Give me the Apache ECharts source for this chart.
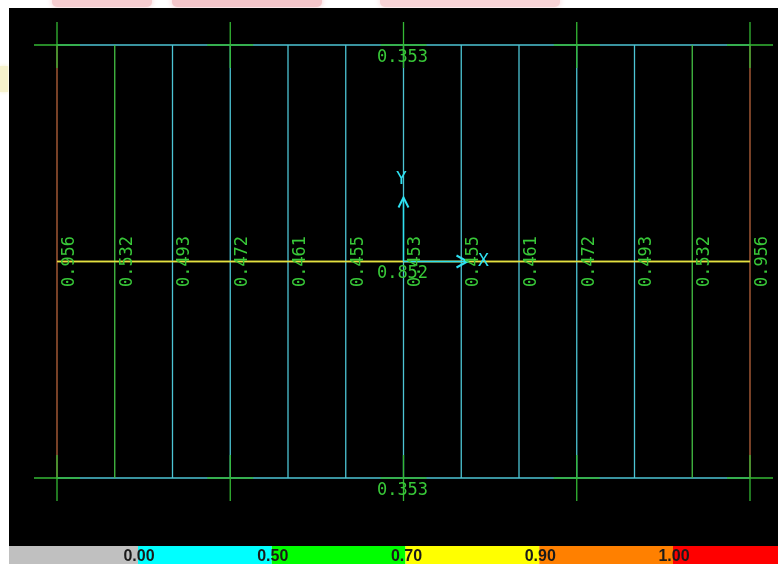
<!DOCTYPE html>
<html>
<head>
<meta charset="utf-8">
<script src="https://cdn.jsdelivr.net/npm/echarts@6/dist/echarts.min.js"></script>
<style>
  html, body { margin: 0; padding: 0; background: #ffffff; }
  #chart { width: 778px; height: 564px; }
</style>
</head>
<body>
<div id="chart"></div>
<script>
// Columns: position along the frame (bay index) and stress ratio
const columnPositions = [0, 1, 2, 3, 4, 5, 6, 7, 8, 9, 10, 11, 12];
const columnRatios = [0.956, 0.532, 0.493, 0.472, 0.461, 0.455, 0.453, 0.455, 0.461, 0.472, 0.493, 0.532, 0.956];
// Beams: level and stress ratio, all spanning the full frame
const beamLevels = [2, 1, 0];
const beamRatios = [0.353, 0.852, 0.353];
const beamSpan = [0, 12];
// Grid axes intersections marked with crosses
const gridNodeX = [0, 3, 6, 9, 12];
const gridNodeY = [0, 2];
// Local axes origin
const axisOrigin = [6, 1];
// Colour scale
const scaleLabels = ['0.00', '0.50', '0.70', '0.90', '1.00'];
const scaleThresholds = [0.00, 0.50, 0.70, 0.90, 1.00];
const scaleColors = ['#c0c0c0', '#00ffff', '#00ff00', '#ffff00', '#ff8000', '#ff0000'];
// Thin member line colours, one per scale band
const memberColors = ['#a0a0a0', '#4cc4d4', '#44c044', '#e4e040', '#b8643c', '#d83020'];

const labelColor = '#38c838';
const crossColor = '#34b834';
const axisColor = '#2ee0f0';
const monoFont = 'DejaVu Sans Mono';

function band(r) {
  let b = 0;
  scaleThresholds.forEach(t => { if (r >= t) b++; });
  return b;
}

const chart = echarts.init(document.getElementById('chart'), null, { renderer: 'canvas' });

const option = {
  backgroundColor: '#ffffff',
  animation: false,
  graphic: [
    // drawing area
    { type: 'rect', z: -10, shape: { x: 9, y: 8, width: 769, height: 538 }, style: { fill: '#000000' } },
    // faint stamp along the top edge
    { type: 'rect', z: -11, shape: { x: 52, y: -4, width: 100, height: 11, r: 5 }, style: { fill: '#f6cdd0', shadowBlur: 6, shadowColor: '#f6cdd0' } },
    { type: 'rect', z: -11, shape: { x: 172, y: -4, width: 150, height: 11, r: 5 }, style: { fill: '#f4c6ca', shadowBlur: 6, shadowColor: '#f4c6ca' } },
    { type: 'rect', z: -11, shape: { x: 380, y: -4, width: 180, height: 11, r: 5 }, style: { fill: '#f8d4d6', shadowBlur: 6, shadowColor: '#f8d4d6' } },
    { type: 'rect', z: -11, shape: { x: 0, y: 66, width: 8, height: 26 }, style: { fill: '#f6f2cc', shadowBlur: 4, shadowColor: '#f6f2cc' } }
  ],
  grid: [
    { left: 57, top: 45, width: 693, height: 433 },
    { left: 9, top: 546, width: 769, height: 18 }
  ],
  xAxis: [
    { type: 'value', gridIndex: 0, min: 0, max: 12, show: false, splitLine: { show: false } },
    { type: 'value', gridIndex: 1, min: 0.0355, max: 5.785, show: false, splitLine: { show: false } }
  ],
  yAxis: [
    { type: 'value', gridIndex: 0, min: 0, max: 2, show: false, splitLine: { show: false } },
    { type: 'value', gridIndex: 1, min: 0, max: 1, show: false, splitLine: { show: false } }
  ],
  series: [
    // beams
    {
      type: 'custom', xAxisIndex: 0, yAxisIndex: 0, z: 2, silent: true,
      data: beamLevels.map((y, i) => [y, beamRatios[i]]),
      renderItem: (params, api) => {
        const y = api.value(0), r = api.value(1);
        const a = api.coord([beamSpan[0], y]), b = api.coord([beamSpan[1], y]);
        return { type: 'line', shape: { x1: a[0], y1: a[1], x2: b[0], y2: b[1] },
          style: { stroke: memberColors[band(r)], lineWidth: 1.3 } };
      }
    },
    // columns
    {
      type: 'custom', xAxisIndex: 0, yAxisIndex: 0, z: 3, silent: true,
      data: columnPositions.map((x, i) => [x, columnRatios[i]]),
      renderItem: (params, api) => {
        const x = api.value(0), r = api.value(1);
        const a = api.coord([x, 0]), b = api.coord([x, 2]);
        return { type: 'line', shape: { x1: a[0], y1: a[1], x2: b[0], y2: b[1] },
          style: { stroke: memberColors[band(r)], lineWidth: 1.3 } };
      }
    },
    // middle beam drawn over the columns
    {
      type: 'custom', xAxisIndex: 0, yAxisIndex: 0, z: 4, silent: true,
      data: beamLevels.map((y, i) => [y, beamRatios[i]]).filter(d => d[0] === 1),
      renderItem: (params, api) => {
        const y = api.value(0), r = api.value(1);
        const a = api.coord([beamSpan[0], y]), b = api.coord([beamSpan[1], y]);
        return { type: 'line', shape: { x1: a[0], y1: a[1], x2: b[0], y2: b[1] },
          style: { stroke: memberColors[band(r)], lineWidth: 1.3 } };
      }
    },
    // grid crosses
    {
      type: 'custom', xAxisIndex: 0, yAxisIndex: 0, z: 5, silent: true,
      data: gridNodeX.flatMap(x => gridNodeY.map(y => [x, y])),
      renderItem: (params, api) => {
        const p = api.coord([api.value(0), api.value(1)]);
        const h = 23;
        return { type: 'group', children: [
          { type: 'line', shape: { x1: p[0] - h, y1: p[1], x2: p[0] + h, y2: p[1] }, style: { stroke: crossColor, lineWidth: 1.3 } },
          { type: 'line', shape: { x1: p[0], y1: p[1] - h, x2: p[0], y2: p[1] + h }, style: { stroke: crossColor, lineWidth: 1.3 } }
        ] };
      }
    },
    // local axes triad
    {
      type: 'custom', xAxisIndex: 0, yAxisIndex: 0, z: 6, silent: true,
      data: [axisOrigin],
      renderItem: (params, api) => {
        const o = api.coord([api.value(0), api.value(1)]);
        const L = 64;
        const st = { stroke: axisColor, lineWidth: 1.4, fill: null };
        return { type: 'group', children: [
          { type: 'line', shape: { x1: o[0], y1: o[1], x2: o[0], y2: o[1] - L }, style: st },
          { type: 'polyline', shape: { points: [[o[0] - 5, o[1] - L + 10], [o[0], o[1] - L], [o[0] + 5, o[1] - L + 10]] }, style: Object.assign({}, st, { lineWidth: 2 }) },
          { type: 'line', shape: { x1: o[0], y1: o[1], x2: o[0] + L, y2: o[1] }, style: st },
          { type: 'polyline', shape: { points: [[o[0] + L - 11, o[1] - 6], [o[0] + L, o[1]], [o[0] + L - 11, o[1] + 6]] }, style: Object.assign({}, st, { lineWidth: 2 }) },
          { type: 'text', x: o[0] - 2, y: o[1] - L - 18, style: { text: 'Y', fill: axisColor, font: '18px "' + monoFont + '"', align: 'center', verticalAlign: 'middle' } },
          { type: 'text', x: o[0] + L + 16, y: o[1], style: { text: 'X', fill: axisColor, font: '18px "' + monoFont + '"', align: 'center', verticalAlign: 'middle' } }
        ] };
      }
    },
    // column ratio labels (rotated)
    {
      type: 'custom', xAxisIndex: 0, yAxisIndex: 0, z: 7, silent: true,
      data: columnPositions.map((x, i) => [x, columnRatios[i]]),
      renderItem: (params, api) => {
        const p = api.coord([api.value(0), 1]);
        return { type: 'text', x: p[0] + 12.5, y: p[1], rotation: Math.PI / 2,
          style: { text: api.value(1).toFixed(3), fill: labelColor, font: '17px "' + monoFont + '"', align: 'center', verticalAlign: 'middle' } };
      }
    },
    // beam ratio labels
    {
      type: 'custom', xAxisIndex: 0, yAxisIndex: 0, z: 7, silent: true,
      data: beamLevels.map((y, i) => [y, beamRatios[i]]),
      renderItem: (params, api) => {
        const p = api.coord([(beamSpan[0] + beamSpan[1]) / 2, api.value(0)]);
        return { type: 'text', x: p[0] - 1, y: p[1] + 12.5,
          style: { text: api.value(1).toFixed(3), fill: labelColor, font: '17px "' + monoFont + '"', align: 'center', verticalAlign: 'middle' } };
      }
    },
    // colour scale bands
    {
      type: 'custom', xAxisIndex: 1, yAxisIndex: 1, z: 8, silent: true,
      data: scaleColors.map((c, i) => [i]),
      renderItem: (params, api) => {
        const i = api.value(0);
        const a = api.coord([i, 1]), b = api.coord([i + 1, 0]);
        const rect = echarts.graphic.clipRectByRect(
          { x: a[0], y: a[1], width: b[0] - a[0], height: b[1] - a[1] },
          { x: params.coordSys.x, y: params.coordSys.y, width: params.coordSys.width, height: params.coordSys.height });
        return rect && { type: 'rect', shape: rect, style: { fill: scaleColors[i] } };
      }
    },
    // colour scale labels
    {
      type: 'custom', xAxisIndex: 1, yAxisIndex: 1, z: 9, silent: true,
      data: scaleLabels.map((t, i) => [i + 1]),
      renderItem: (params, api) => {
        const i = api.value(0);
        const p = api.coord([i, 0.5]);
        return { type: 'text', x: p[0] + 1, y: p[1] + 2,
          style: { text: scaleLabels[i - 1], fill: '#1a1a1a', font: 'bold 16px "Liberation Sans"', align: 'center', verticalAlign: 'middle' } };
      }
    }
  ]
};

chart.setOption(option);
</script>
</body>
</html>
